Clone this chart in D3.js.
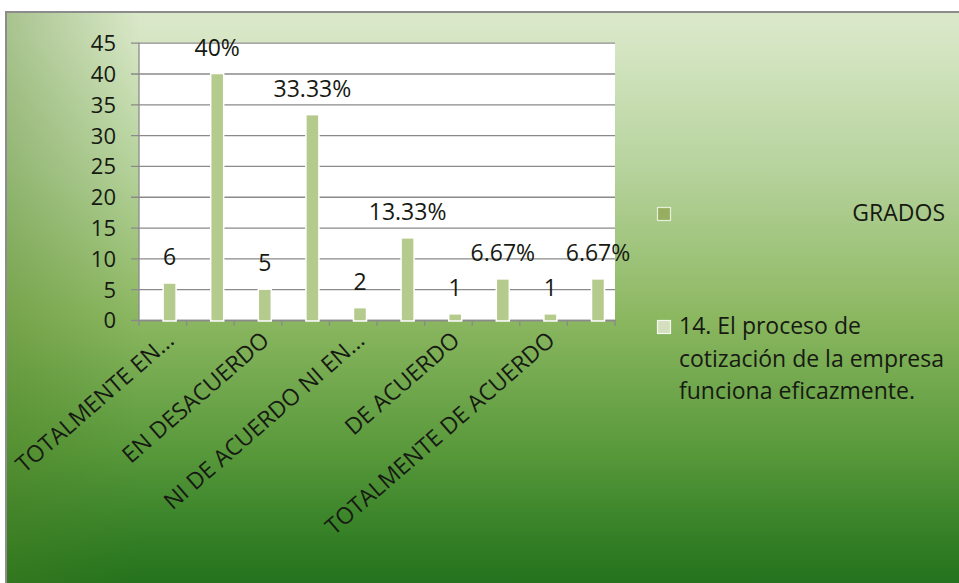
<!DOCTYPE html>
<html>
<head>
<meta charset="utf-8">
<script src="https://cdn.jsdelivr.net/npm/d3@7"></script>
<style>
  html, body { margin: 0; padding: 0; background: #ffffff; }
  svg { display: block; }
  text { font-family: "Open Sans", "DejaVu Sans", sans-serif; fill: #161a12; }
</style>
</head>
<body>
<svg id="chart" width="959" height="583"></svg>
<script>
// Response categories (one slot per row of the source table)
const categories = [
  "TOTALMENTE EN...", "c2", "EN DESACUERDO", "c4", "NI DE ACUERDO NI EN...",
  "c6", "DE ACUERDO", "c8", "TOTALMENTE DE ACUERDO", "c10"
];
// Axis text shown under each slot (every other slot is unlabeled)
const tickLabels = [
  "TOTALMENTE EN...", "", "EN DESACUERDO", "", "NI DE ACUERDO NI EN...",
  "", "DE ACUERDO", "", "TOTALMENTE DE ACUERDO", ""
];
// Series names
const seriesNames = ["GRADOS", "14. El proceso de cotización de la empresa funciona eficazmente."];
// GRADOS column carries no values
const gradosValues = [null, null, null, null, null, null, null, null, null, null];
// Counts and percentages for question 14
const q14Values = [6, 40, 5, 33.33, 2, 13.33, 1, 6.67, 1, 6.67];
const q14Labels = ["6", "40%", "5", "33.33%", "2", "13.33%", "1", "6.67%", "1", "6.67%"];
// Value axis ticks
const yTicks = [0, 5, 10, 15, 20, 25, 30, 35, 40, 45];

const svg = d3.select("#chart");
const defs = svg.append("defs");

// Chart area background: light green at the top fading to deep green
const bg = defs.append("linearGradient").attr("id", "bgGrad")
  .attr("x1", 0).attr("y1", 0).attr("x2", 0).attr("y2", 1);
[[0, "#dae8c9"], [0.05, "#d6e6c4"], [0.28, "#b5d29b"], [0.52, "#8db862"],
 [0.75, "#5a9a3c"], [0.95, "#2a7820"], [1, "#22701c"]]
  .forEach(([o, c]) => bg.append("stop").attr("offset", o).attr("stop-color", c));

const side = defs.append("linearGradient").attr("id", "sideGrad")
  .attr("x1", 0).attr("y1", 0).attr("x2", 1).attr("y2", 0);
side.append("stop").attr("offset", 0).attr("stop-color", "#4d7f22").attr("stop-opacity", 0.35);
side.append("stop").attr("offset", 0.14).attr("stop-color", "#4d7f22").attr("stop-opacity", 0);
side.append("stop").attr("offset", 1).attr("stop-color", "#4d7f22").attr("stop-opacity", 0);

svg.append("rect").attr("x", 6).attr("y", 12).attr("width", 962).attr("height", 580)
  .attr("fill", "url(#bgGrad)");
svg.append("rect").attr("x", 6).attr("y", 12).attr("width", 962).attr("height", 580)
  .attr("fill", "url(#sideGrad)");
svg.append("rect").attr("x", 6).attr("y", 12).attr("width", 962).attr("height", 580)
  .attr("fill", "none").attr("stroke", "#8c8c8c").attr("stroke-width", 2);

// Plot area
const plot = { left: 139, right: 615, top: 42.7, bottom: 320 };

const x = d3.scaleBand().domain(categories).range([plot.left, plot.right]).padding(0);
const xs = d3.scaleBand().domain(seriesNames).range([0, x.bandwidth()])
  .paddingInner(0).paddingOuter(0.75);
const y = d3.scaleLinear().domain([0, 45]).range([plot.bottom, plot.top]);

svg.append("rect").attr("x", plot.left).attr("y", plot.top)
  .attr("width", plot.right - plot.left).attr("height", plot.bottom - plot.top)
  .attr("fill", "#ffffff");

// Gridlines with short tick stubs to the left
const yAxis = d3.axisLeft(y).tickValues(yTicks)
  .tickSize(-(plot.right - plot.left)).tickSizeOuter(0).tickPadding(0);
const gy = svg.append("g").attr("transform", `translate(${plot.left},0)`).call(yAxis);
gy.select(".domain").remove();
gy.selectAll(".tick line").attr("stroke", "#8a8a8a").attr("stroke-width", 1.3)
  .attr("x1", -8);
gy.selectAll(".tick text").attr("x", -23).attr("dy", "0.36em")
  .style("font-size", "22px").style("fill", "#161a12");

svg.append("line").attr("x1", plot.left).attr("x2", plot.left)
  .attr("y1", plot.top).attr("y2", plot.bottom)
  .attr("stroke", "#8a8a8a").attr("stroke-width", 1.3);

// Category axis
const xAxis = d3.axisBottom(x).tickSize(0).tickFormat(() => "");
const gx = svg.append("g").attr("transform", `translate(0,${plot.bottom})`).call(xAxis);
gx.select(".domain").attr("stroke", "#8a8a8a").attr("stroke-width", 1.3);
gx.selectAll(".tick").remove();
const bounds = categories.map(c => x(c)).concat([plot.right]);
svg.append("g").selectAll("line").data(bounds).join("line")
  .attr("x1", d => d).attr("x2", d => d)
  .attr("y1", plot.bottom).attr("y2", plot.bottom + 6)
  .attr("stroke", "#8a8a8a").attr("stroke-width", 1.3);

// Bars
const rows = categories.map((c, i) => ({ cat: c, series: [
  { name: seriesNames[0], v: gradosValues[i], label: null },
  { name: seriesNames[1], v: q14Values[i], label: q14Labels[i] }
]}));
const barColor = { [seriesNames[0]]: "#97ae61", [seriesNames[1]]: "#b5cb8d" };

const bars = svg.append("g").selectAll("g").data(rows).join("g")
  .attr("transform", d => `translate(${x(d.cat)},0)`);
const items = bars.selectAll("g").data(d => d.series.filter(s => s.v != null)).join("g");
items.append("rect")
  .attr("x", s => xs(s.name) + 0.3)
  .attr("width", xs.bandwidth() - 0.6)
  .attr("y", s => y(s.v))
  .attr("height", s => y(0) - y(s.v) + 1)
  .attr("fill", s => barColor[s.name])
  .attr("stroke", "#ffffff").attr("stroke-width", 1.5);
items.append("text")
  .attr("x", s => xs(s.name) + xs.bandwidth() / 2)
  .attr("y", s => y(s.v) - 18)
  .attr("text-anchor", "middle")
  .style("font-size", "23px")
  .text(s => s.label);

// Rotated category labels
svg.append("g").selectAll("text").data(categories.map((c, i) => ({ c, t: tickLabels[i] })).filter(d => d.t))
  .join("text")
  .attr("transform", d => `translate(${x(d.c) + x.bandwidth() / 2 + 2},${plot.bottom + 10}) rotate(-41)`)
  .attr("text-anchor", "end")
  .attr("dy", "0.72em")
  .style("font-size", "23px")
  .text(d => d.t);

// Legend
const legend = svg.append("g");
legend.append("rect").attr("x", 657.5).attr("y", 207.5).attr("width", 13).attr("height", 13)
  .attr("fill", barColor[seriesNames[0]]).attr("stroke", "#e6efd8").attr("stroke-width", 1.2);
legend.append("text").attr("x", 945).attr("y", 221).attr("text-anchor", "end")
  .style("font-size", "23px").text(seriesNames[0]);
legend.append("rect").attr("x", 657.5).attr("y", 320.5).attr("width", 13).attr("height", 13)
  .attr("fill", "#d3dfbe").attr("stroke", "#f4f8ee").attr("stroke-width", 1.2);
const lines = ["14. El proceso de", "cotización de la empresa", "funciona eficazmente."];
const lt = legend.append("text").attr("x", 679).attr("y", 334).style("font-size", "23px");
lt.selectAll("tspan").data(lines).join("tspan")
  .attr("x", 679).attr("dy", (d, i) => i === 0 ? 0 : 32.5).text(d => d);
</script>
</body>
</html>
